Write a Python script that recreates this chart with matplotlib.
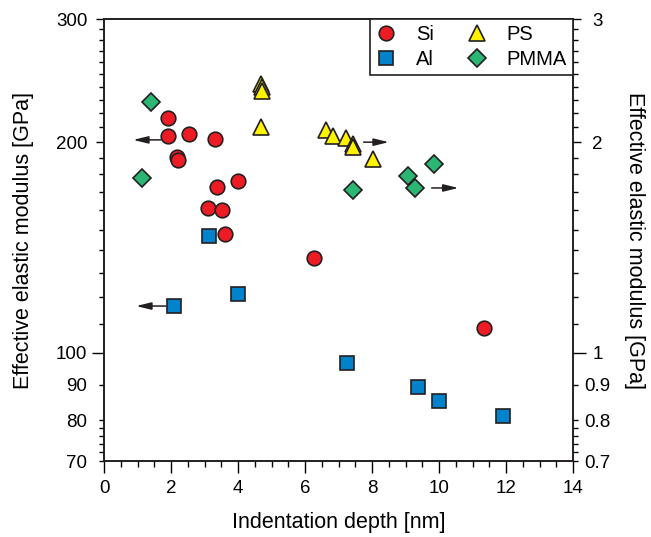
import matplotlib
matplotlib.use("Agg")
import matplotlib.pyplot as plt
from matplotlib.ticker import FixedLocator, FixedFormatter

plt.rcParams['font.family'] = ['Liberation Sans', 'DejaVu Sans']

# Si and Al (left axis, GPa)
si_x = [1.90, 1.90, 2.53, 3.32, 2.18, 2.20, 4.01, 3.36, 3.11, 3.53, 3.61, 6.26, 11.33]
si_y = [216.8, 204.2, 205.5, 202.0, 190.5, 188.5, 176.0, 172.8, 161.0, 160.0, 147.7, 136.6, 108.6]
al_x = [3.13, 2.09, 4.00, 7.24, 9.38, 9.99, 11.92]
al_y = [147.0, 116.6, 121.4, 96.6, 89.4, 85.4, 81.3]

# PS and PMMA (right axis, GPa)
ps_x = [4.70, 4.72, 4.71, 4.70, 6.62, 6.83, 7.23, 7.43, 7.43, 8.02]
ps_y = [2.42, 2.40, 2.37, 2.10, 2.08, 2.04, 2.03, 1.99, 1.97, 1.89]
pmma_x = [1.41, 1.13, 7.42, 9.85, 9.08, 9.27]
pmma_y = [2.28, 1.78, 1.71, 1.86, 1.79, 1.72]

edge = '#231F20'
fig = plt.figure(figsize=(6.51, 5.37), dpi=100)
ax = fig.add_axes([0.1598, 0.1415, 0.7204, 0.8231])
ax2 = ax.twinx()

kw = dict(linestyle='none', markeredgecolor=edge, markeredgewidth=1.2)
h_si, = ax.plot(si_x, si_y, 'o', color='#ED1C24', markersize=10.5, label='Si', **kw)
h_al, = ax.plot(al_x, al_y, 's', color='#0083CA', markersize=10, label='Al', **kw)
h_ps, = ax2.plot(ps_x, ps_y, '^', color='#FFF200', markersize=11, label='PS', **kw)
h_pm, = ax2.plot(pmma_x, pmma_y, 'D', color='#2BB673', markersize=9.5, label='PMMA', **kw)

arrow = dict(arrowstyle='-|>,head_length=0.9,head_width=0.22', color=edge, lw=1.1,
             shrinkA=0, shrinkB=0)
ax.annotate('', xy=(0.87, 201.5), xytext=(1.70, 201.5), arrowprops=arrow)
ax.annotate('', xy=(0.96, 116.6), xytext=(1.85, 116.6), arrowprops=arrow)
ax2.annotate('', xy=(8.50, 2.00), xytext=(7.75, 2.00), arrowprops=arrow)
ax2.annotate('', xy=(10.58, 1.72), xytext=(9.78, 1.72), arrowprops=arrow)

ax.set_xlim(0, 14)
ax.set_yscale('log')
ax.set_ylim(70, 300)
ax2.set_yscale('log')
ax2.set_ylim(0.7, 3)

ax.set_xticks(range(0, 15, 2))
ax.set_xticks([v / 2 for v in range(29)], minor=True)

left_major = [100, 200, 300]
left_minor = [72, 74, 76, 78] + [70, 80, 90] + list(range(110, 200, 10)) + list(range(210, 300, 10))
ax.yaxis.set_major_locator(FixedLocator(left_major))
ax.yaxis.set_major_formatter(FixedFormatter(['100', '200', '300']))
ax.yaxis.set_minor_locator(FixedLocator(left_minor))
ax.yaxis.set_minor_formatter(FixedFormatter(['', '', '', '', '70', '80', '90'] + [''] * 18))

right_major = [1, 2, 3]
right_minor = [0.72, 0.74, 0.76, 0.78] + [0.7, 0.8, 0.9] + [v / 10 for v in range(11, 20)] + [v / 10 for v in range(21, 30)]
ax2.yaxis.set_major_locator(FixedLocator(right_major))
ax2.yaxis.set_major_formatter(FixedFormatter(['1', '2', '3']))
ax2.yaxis.set_minor_locator(FixedLocator(right_minor))
ax2.yaxis.set_minor_formatter(FixedFormatter(['', '', '', '', '0.7', '0.8', '0.9'] + [''] * 18))

ax.tick_params(axis='x', which='major', direction='out', length=8.5, width=1, pad=5, labelsize=13.5)
ax.tick_params(axis='x', which='minor', direction='out', length=4, width=1)
ax.tick_params(axis='y', which='major', direction='out', length=5.5, width=1, pad=6.5, labelsize=13.5)
ax.tick_params(axis='y', which='minor', direction='out', length=3.5, width=1, pad=8.5, labelsize=13.5)
ax2.tick_params(axis='y', which='major', direction='out', length=5.5, width=1, pad=12, labelsize=13.5)
ax2.tick_params(axis='y', which='minor', direction='out', length=3.5, width=1, pad=14, labelsize=13.5)
for lab in ax2.get_yticklabels(which='both'):
    lab.set_horizontalalignment('center')
ax.xaxis.set_ticks_position('bottom')

# longer tick at 100 / 1
ax.yaxis.get_major_ticks()[0].tick1line.set_markersize(9)
ax2.yaxis.get_major_ticks()[0].tick2line.set_markersize(9)

for a in (ax, ax2):
    for s in a.spines.values():
        s.set_linewidth(1.2)
        s.set_color(edge)

ax.set_xlabel('Indentation depth [nm]', fontsize=15.5, labelpad=11)
ax.set_ylabel('Effective elastic modulus [GPa]', fontsize=15.5, labelpad=16)
ax2.set_ylabel('Effective elastic modulus [GPa]', fontsize=15.5, rotation=270, labelpad=25)

leg = ax2.legend(handles=[h_si, h_al, h_ps, h_pm], ncol=2, loc='upper right',
                 borderaxespad=0, fancybox=False, framealpha=1, edgecolor=edge,
                 fontsize=14.5, handlelength=1.0, handletextpad=1.0, columnspacing=1.6,
                 labelspacing=0.3, borderpad=0.3)
leg.get_frame().set_linewidth(1.2)

fig.savefig('out.png', dpi=100)
